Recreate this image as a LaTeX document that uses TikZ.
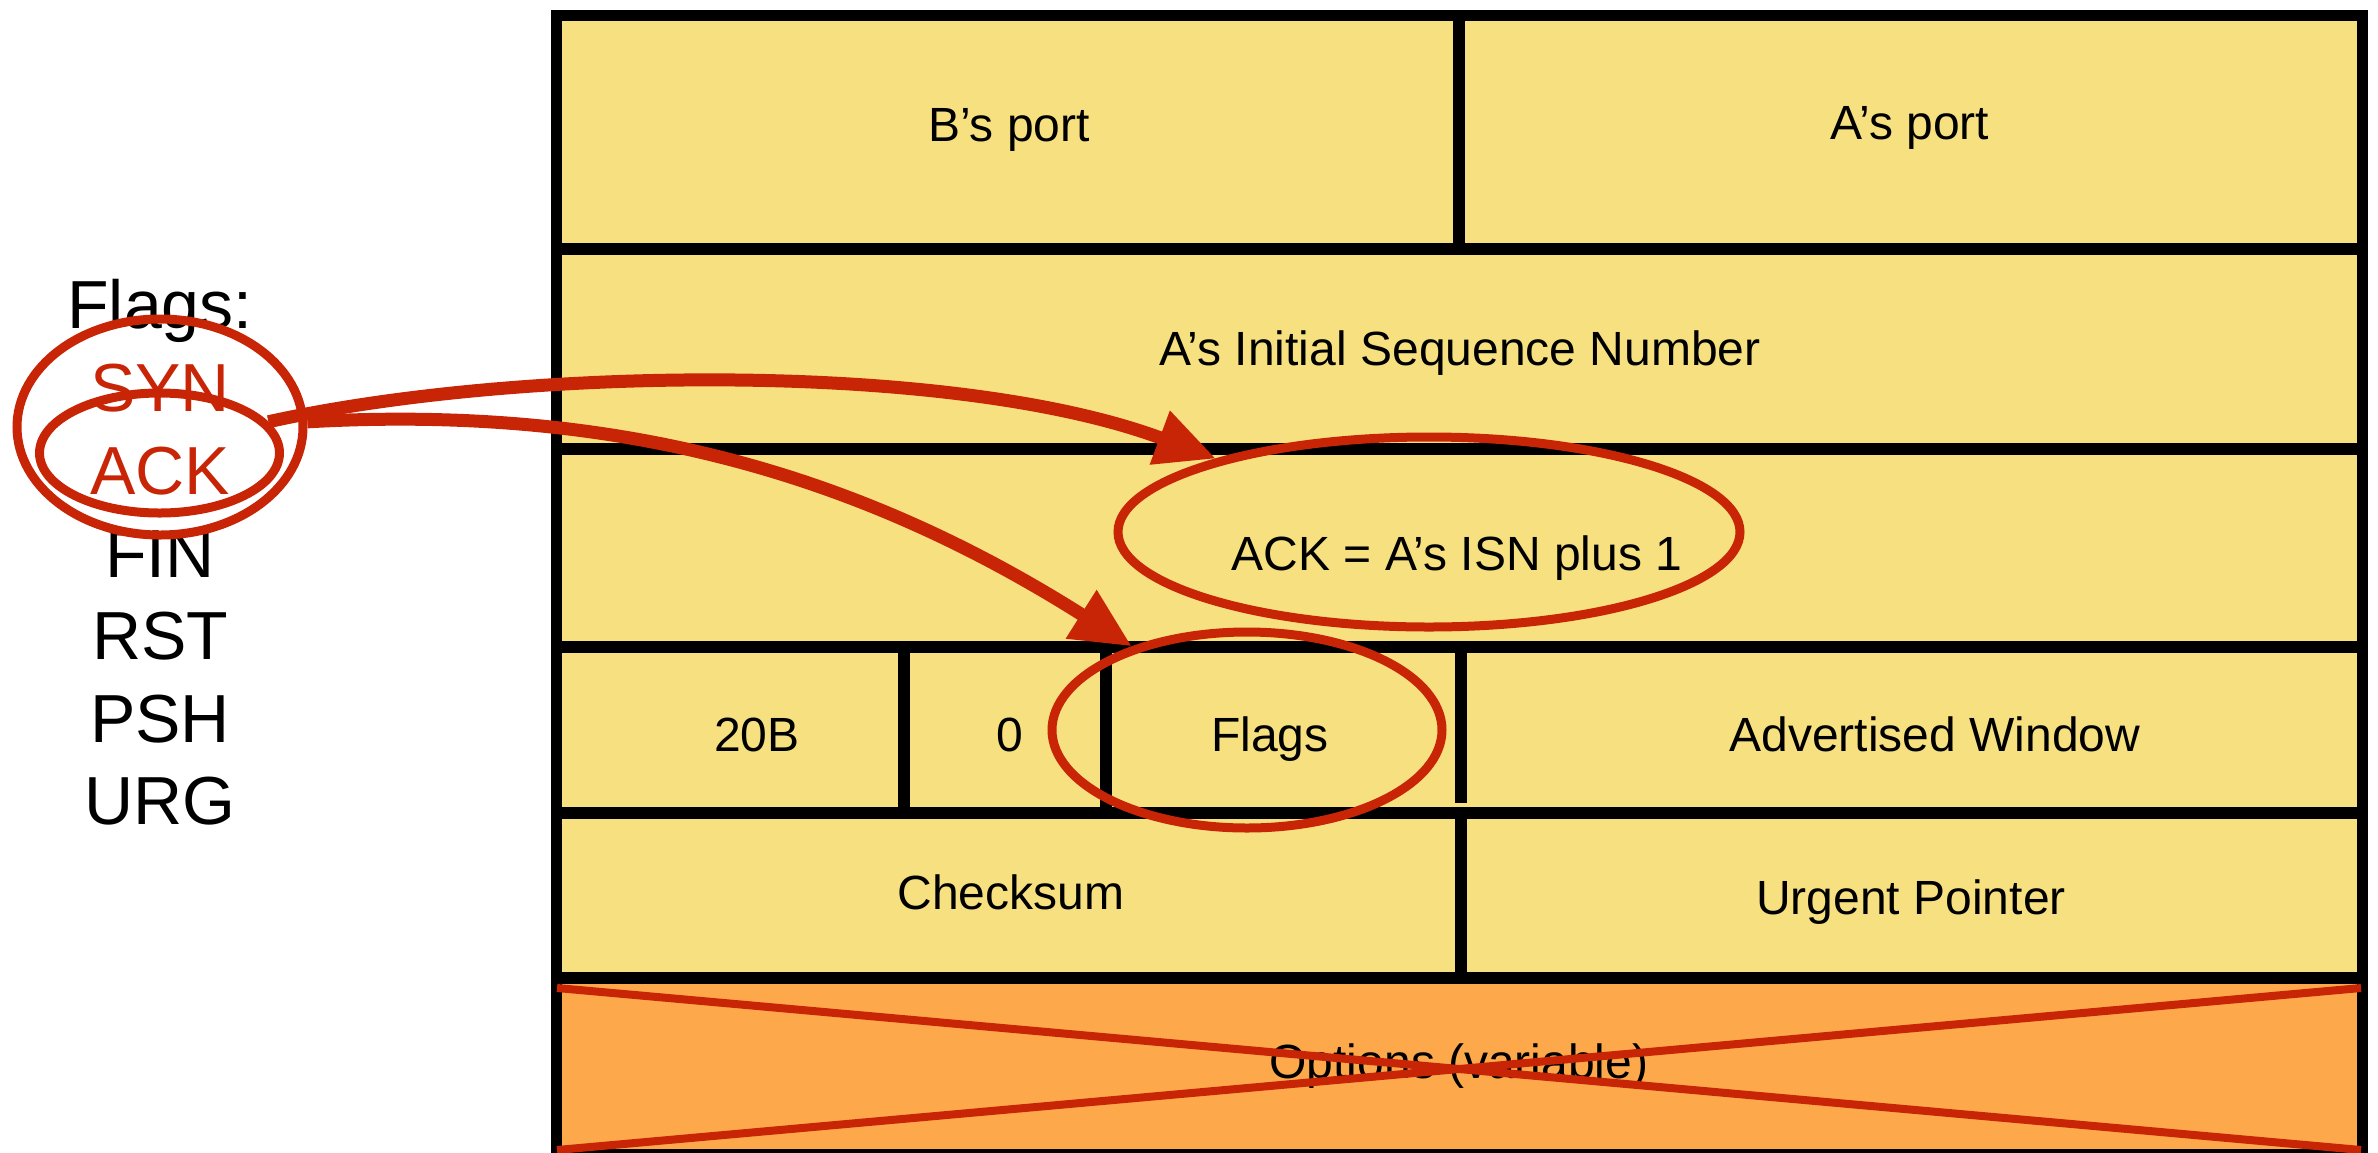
\documentclass[tikz,border=0pt]{standalone}
\usepackage{fontspec}
\setmainfont{Liberation Sans}
\usetikzlibrary{shapes.geometric,arrows.meta}
\definecolor{cellyellow}{RGB}{246,224,128}
\definecolor{optorange}{RGB}{253,168,75}
\definecolor{markred}{RGB}{200,37,7}
\begin{document}
\begin{tikzpicture}[x=0.5pt,y=-0.5pt,
  grid/.style={line width=6pt, draw=black},
  celltext/.style={font=\fontsize{24pt}{28pt}\selectfont, anchor=base, inner sep=0pt},
  flagtext/.style={font=\fontsize{34pt}{40pt}\selectfont, anchor=base, inner sep=0pt},
  circlemark/.style={draw=markred, line width=4.5pt, ellipse, inner sep=0pt},
  pointer/.style={draw=markred, line width=6.5pt, -{Triangle[length=30pt,width=27pt]}},
  crossline/.style={draw=markred, line width=4pt}
]
\useasboundingbox (0,0) rectangle (2378,1152);
% fills
\fill[cellyellow] (556,15) rectangle (2362,978);
\fill[optorange] (556,978) rectangle (2362,1150);
% row lines
\draw[grid] (556,249) -- (2362,249);
\draw[grid] (556,449) -- (2362,449);
\draw[grid] (556,647) -- (2362,647);
\draw[grid] (556,813) -- (2362,813);
\draw[grid] (556,978) -- (2362,978);
% column lines
\draw[grid] (1459,15) -- (1459,249);
\draw[grid] (904,647) -- (904,813);
\draw[grid] (1106,647) -- (1106,813);
\draw[grid] (1461,647) -- (1461,803);
\draw[grid] (1461,813) -- (1461,978);
% outer frame
\draw[line width=5.5pt] (556,15) rectangle (2362,1154);

% cell texts
\node[celltext] (bport) at (1009,141) {B’s port};
\node[celltext] (aport) at (1910,139) {A’s port};
\node[celltext] (isn) at (1460,365) {A’s Initial Sequence Number};
\node[celltext] (acknum) at (1457,570) {ACK = A’s ISN plus 1};
\node[celltext] (hlen) at (757,751) {20B};
\node[celltext] (zero) at (1010,751) {0};
\node[celltext] (flagcell) at (1270,751) {Flags};
\node[celltext] (window) at (1935,751) {Advertised Window};
\node[celltext] (checksum) at (1011,909) {Checksum};
\node[celltext] (urgent) at (1911,914) {Urgent Pointer};
\node[celltext] (options) at (1459,1078) {Options (variable)};

% flag list
\node[flagtext] (flagshead) at (160,328) {Flags:};
\node[flagtext, text=markred] (syn) at (160,411) {SYN};
\node[flagtext, text=markred] (ack) at (160,494) {ACK};
\node[flagtext] (fin) at (160,577) {FIN};
\node[flagtext] (rst) at (160,659) {RST};
\node[flagtext] (psh) at (160,742) {PSH};
\node[flagtext] (urg) at (160,824) {URG};

% cross over options
\coordinate (xtl) at (557,988);
\coordinate (xbr) at (2361,1150);
\coordinate (xbl) at (557,1150);
\coordinate (xtr) at (2361,988);
\draw[crossline] (xtl) -- (xbr);
\draw[crossline] (xbl) -- (xtr);

% ellipses
\node[circlemark, minimum width=143pt, minimum height=108pt] (bigell) at (160,427) {};
\node[circlemark, minimum width=120pt, minimum height=60pt] (smallell) at (159.5,453) {};
\node[circlemark, minimum width=311pt, minimum height=95pt] (ackell) at (1429,532) {};
\node[circlemark, minimum width=195pt, minimum height=98pt] (flagell) at (1247,730) {};

% arrows
\draw[pointer] (smallell.16.4) .. controls +(252,-56) and +(-262,-98) .. (ackell.161);
\draw[pointer] (bigell.2) .. controls +(300,-17) and +(-281,-178) .. (flagell.144.7);
\end{tikzpicture}
\end{document}
